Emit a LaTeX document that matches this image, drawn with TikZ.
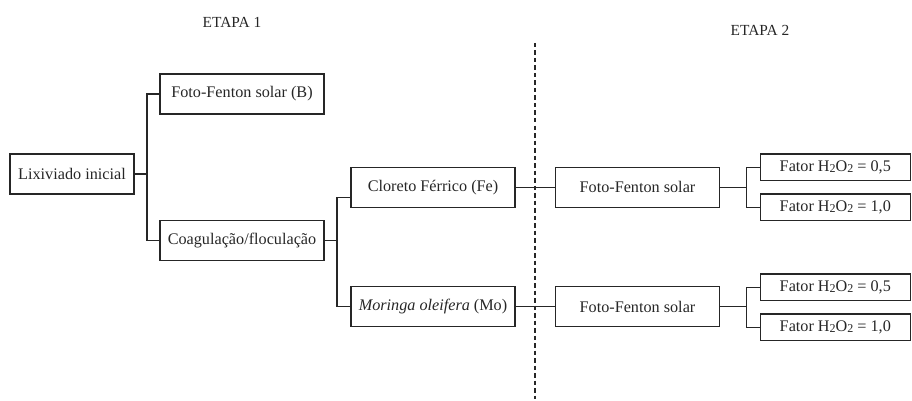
\documentclass[tikz,border=0pt]{standalone}
\usepackage{fontspec}
\setmainfont{Liberation Serif}
\newcommand{\subtwo}{\raisebox{-1.2pt}{\fontsize{12}{12}\selectfont 2}}
\begin{document}
\begin{tikzpicture}[x=1pt,y=-1pt,
  box/.style={draw=black!85,line width=1.2pt,rectangle,inner sep=0pt,text=black!85,
    font=\fontsize{16.2}{19}\selectfont},
  wbox/.style={box,minimum width=164pt,minimum height=40pt},
  fbox/.style={box,minimum width=150pt,minimum height=26.7pt},
  conn/.style={draw=black!85,line width=1.2pt},
  title/.style={text=black!85,font=\fontsize{15.4}{18}\selectfont}]
\useasboundingbox (0,0) rectangle (912,401);
\node[title] (e1) at (232,22) {ETAPA 1};
\node[title] (e2) at (760,30) {ETAPA 2};
\node[box,minimum width=124pt,minimum height=40pt] (lix) at (72,174) {Lixiviado inicial};
\node[wbox] (B) at (242,94) {Foto-Fenton solar (B)};
\node[wbox] (coag) at (242,240.7) {Coagulação/floculação};
\node[wbox] (fe) at (433,187.3) {Cloreto Férrico (Fe)};
\node[wbox] (mo) at (433,306.7) {\textit{Moringa oleifera} (Mo)};
\node[wbox,minimum width=163.6pt] (ff1) at (637.5,187.3) {Foto-Fenton solar};
\node[wbox,minimum width=163.6pt] (ff2) at (637.5,306.7) {Foto-Fenton solar};
\node[fbox] (f1a) at (835.3,167.3) {Fator H\subtwo O\subtwo{} = 0,5};
\node[fbox] (f1b) at (835.3,207.3) {Fator H\subtwo O\subtwo{} = 1,0};
\node[fbox] (f2a) at (835.3,287.3) {Fator H\subtwo O\subtwo{} = 0,5};
\node[fbox] (f2b) at (835.3,327.3) {Fator H\subtwo O\subtwo{} = 1,0};
\coordinate (j1) at (147,174);
\coordinate (j2) at (337,240.7);
\coordinate (j3) at (746.7,187.3);
\coordinate (j4) at (746.7,306.7);
\coordinate (d1) at (535,43);
\coordinate (d2) at (535,399);
\draw[conn] (lix.east) -- (j1);
\draw[conn] (B.west) -| (j1) |- (coag.west);
\draw[conn] (coag.east) -- (j2);
\draw[conn] ([yshift=-10pt]fe.west) -| (j2) |- (mo.west);
\draw[conn] (fe.east) -- (ff1.west);
\draw[conn] (mo.east) -- (ff2.west);
\draw[conn] (ff1.east) -- (j3);
\draw[conn] (f1a.west) -| (j3) |- (f1b.west);
\draw[conn] (ff2.east) -- (j4);
\draw[conn] (f2a.west) -| (j4) |- (f2b.west);
\draw[draw=black!85,line width=1.1pt,dash pattern=on 4.5pt off 3pt] (d1) -- (d2);
\end{tikzpicture}
\end{document}
